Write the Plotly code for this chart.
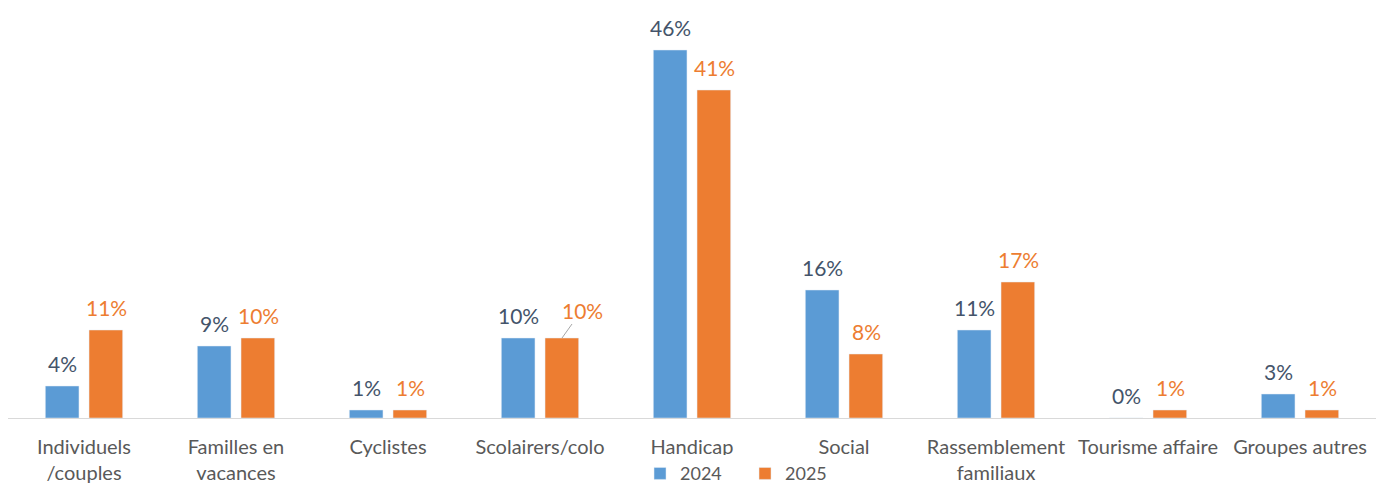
import plotly.graph_objects as go

categories = ["Individuels<br>/couples", "Familles en<br>vacances", "Cyclistes", "Scolairers/colo",
              "Handicap", "Social", "Rassemblement<br>familiaux", "Tourisme affaire", "Groupes autres"]
values_2024 = [4, 9, 1, 10, 46, 16, 11, 0, 3]
values_2025 = [11, 10, 1, 10, 41, 8, 17, 1, 1]
series_names = ["2024", "2025"]

BLUE = "#5b9bd5"
ORANGE = "#ed7d31"
BLUE_TXT = "#44546a"
FONT = "Lato, Open Sans, sans-serif"

fig = go.Figure()
fig.add_trace(go.Bar(x=categories, y=values_2024, name=series_names[0], marker_color=BLUE))
fig.add_trace(go.Bar(x=categories, y=values_2025, name=series_names[1], marker_color=ORANGE))

annotations = []
for i, c in enumerate(categories):
    annotations.append(dict(x=c, y=values_2024[i], text=f"{values_2024[i]}%", showarrow=False,
                            xshift=-22, yshift=8, yanchor="bottom",
                            font=dict(size=21, color=BLUE_TXT, family=FONT)))
    if i == 3:
        annotations.append(dict(x=c, y=values_2025[i], text=f"{values_2025[i]}%", showarrow=True,
                                arrowhead=0, arrowwidth=1, arrowcolor="#a6a6a6",
                                ax=20, ay=-28, xshift=22,
                                font=dict(size=21, color=ORANGE, family=FONT)))
    else:
        annotations.append(dict(x=c, y=values_2025[i], text=f"{values_2025[i]}%", showarrow=False,
                                xshift=22, yshift=8, yanchor="bottom",
                                font=dict(size=21, color=ORANGE, family=FONT)))

fig.update_layout(
    width=1376, height=484,
    margin=dict(l=8, r=0, t=20, b=66, autoexpand=False),
    paper_bgcolor="white", plot_bgcolor="white",
    barmode="group", bargap=0.425, bargroupgap=0.23,
    font=dict(family=FONT, color="#595959", size=16),
    showlegend=True,
    legend=dict(orientation="h", x=0.462, xanchor="left", y=-0.14, yanchor="middle",
                font=dict(size=18, color="#595959"), itemwidth=30, traceorder="normal",
                entrywidth=60, entrywidthmode="pixels"),
    annotations=annotations,
    xaxis=dict(showline=True, linecolor="#d9d9d9", linewidth=1, ticks="outside", ticklen=11,
               tickcolor="rgba(0,0,0,0)", showgrid=False, automargin=False,
               tickfont=dict(size=20, color="#595959")),
    yaxis=dict(range=[0, 49.75], visible=False, showgrid=False, zeroline=False, automargin=False),
)

fig.write_html("out.html", config={"displayModeBar": False},
               post_script="document.body.style.margin='0';document.body.style.overflow='hidden';")
